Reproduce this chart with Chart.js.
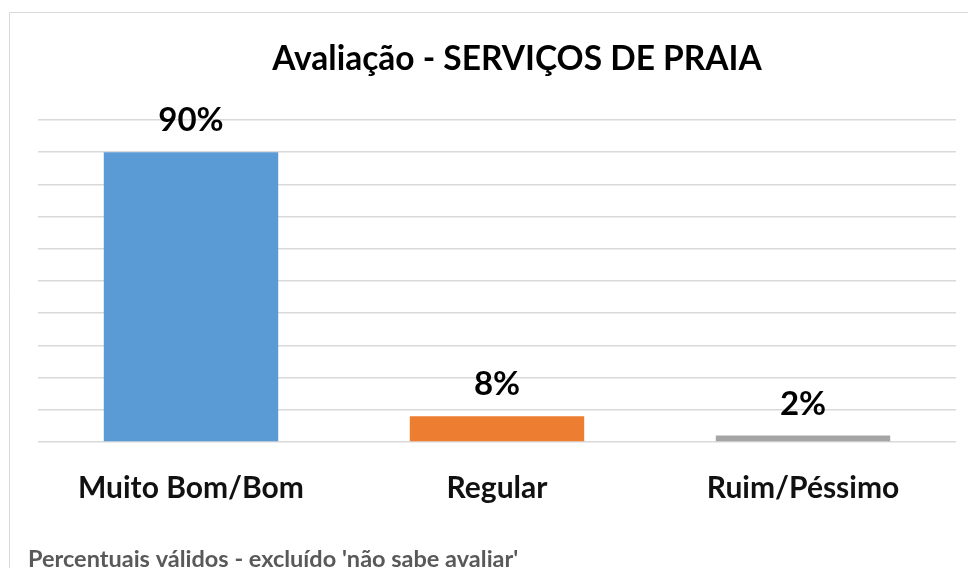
<!DOCTYPE html>
<html>
<head>
<meta charset="utf-8">
<script src="https://cdn.jsdelivr.net/npm/chart.js@4/dist/chart.umd.min.js"></script>
<style>
  html, body { margin: 0; padding: 0; background: #fff; }
  #wrap { width: 968px; height: 568px; position: relative; }
</style>
</head>
<body>
<div id="wrap"><canvas id="myChart"></canvas></div>
<script>
var categories = ['Muito Bom/Bom', 'Regular', 'Ruim/Péssimo']
var percent = [90, 8, 2]
var bar_colors = ['#5B9BD5', '#ED7D31', '#A5A5A5']
var chart_title = 'Avaliação - SERVIÇOS DE PRAIA'
var footnote = "Percentuais válidos - excluído 'não sabe avaliar'"

var font_name = 'Lato, "Open Sans", sans-serif'

// frame, title, value labels and the note under the chart
var decorations = {
    id: 'decorations',
    beforeDraw: function (chart) {
        let ctx = chart.ctx
        ctx.save()
        ctx.strokeStyle = '#d9d9d9'
        ctx.lineWidth = 1
        ctx.beginPath()
        ctx.moveTo(9.5, 568)
        ctx.lineTo(9.5, 12.5)
        ctx.lineTo(968, 12.5)
        ctx.stroke()
        ctx.restore()
    },
    afterDatasetsDraw: function (chart) {
        let ctx = chart.ctx
        ctx.save()
        ctx.fillStyle = '#000'
        ctx.textAlign = 'center'
        ctx.textBaseline = 'alphabetic'
        ctx.font = 'bold 33.5px ' + font_name
        ctx.fillText(chart_title, 517, 70)

        ctx.font = 'bold 33px ' + font_name
        let meta = chart.getDatasetMeta(0)
        for (var i = 0; i < meta.data.length; i++) {
            let bar = meta.data[i]
            ctx.fillText(percent[i] + '%', bar.x, bar.y - 21)
        }

        ctx.textAlign = 'left'
        ctx.fillStyle = '#595959'
        ctx.font = 'bold 23.5px ' + font_name
        ctx.fillText(footnote, 28, 567)
        ctx.restore()
    }
}

var ctx = document.getElementById('myChart').getContext('2d')
var myBar = new Chart(ctx, {
    type: 'bar',
    data: {
        labels: categories,
        datasets: [{
            data: percent,
            backgroundColor: bar_colors,
            barPercentage: 0.57,
            categoryPercentage: 1
        }]
    },
    options: {
        responsive: true,
        maintainAspectRatio: false,
        animation: false,
        layout: {
            padding: { left: 38, right: 12, top: 120, bottom: 46 }
        },
        plugins: {
            legend: { display: false },
            tooltip: { enabled: false }
        },
        scales: {
            x: {
                grid: { display: false },
                border: { display: false },
                ticks: {
                    color: '#111',
                    padding: 20,
                    font: { family: font_name, size: 30, weight: 'bold' }
                },
                afterFit: function (scale) { scale.height = 80 }
            },
            y: {
                min: 0,
                max: 100,
                border: { display: false },
                grid: { color: '#d9d9d9', lineWidth: 1.5, drawTicks: false },
                ticks: { display: false, stepSize: 10 },
                afterFit: function (scale) { scale.width = 0 }
            }
        }
    },
    plugins: [decorations]
})
</script>
</body>
</html>
